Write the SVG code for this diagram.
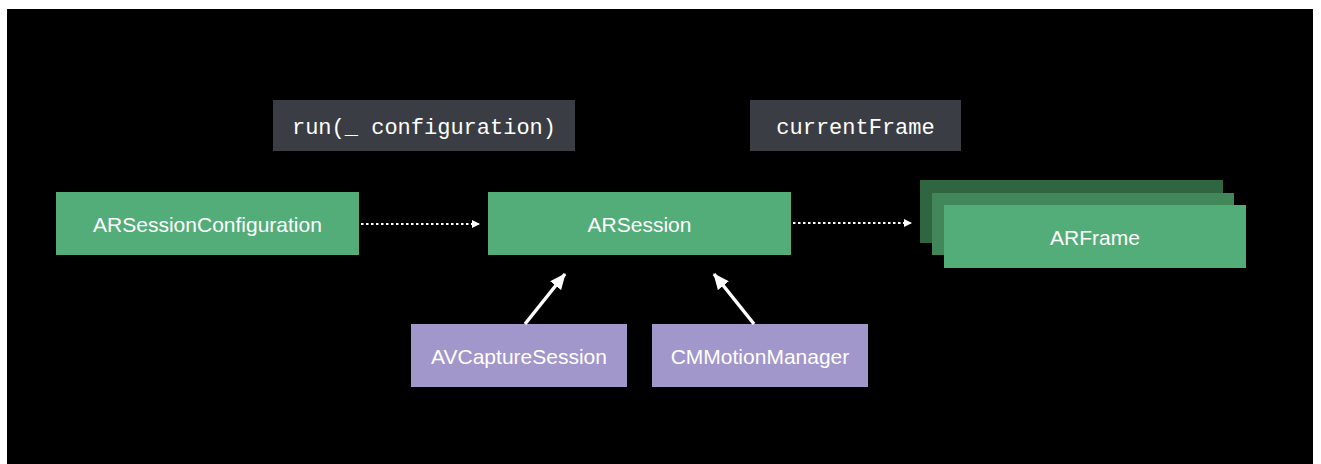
<svg xmlns="http://www.w3.org/2000/svg" width="1321" height="464" viewBox="0 0 1321 464">
<defs>
<style>
.lbl{font-family:"Liberation Sans",Arial,sans-serif;font-size:21px;fill:#ffffff;text-anchor:middle}
.code{font-family:"Liberation Mono","DejaVu Sans Mono",monospace;font-size:22px;fill:#ffffff;text-anchor:middle}
.green{fill:#53ad79}
.purple{fill:#a197cb}
.gray{fill:#3a3e44}
.dotted{stroke:#ffffff;stroke-width:2;stroke-dasharray:2.5 2.5;fill:none}
.solid{stroke:#ffffff;stroke-width:3.5;fill:none}
</style>
<marker id="smallHead" markerWidth="8" markerHeight="8" refX="8" refY="4" orient="auto" markerUnits="userSpaceOnUse">
<path d="M0,0 L8,4 L0,8 Z" fill="#ffffff"/>
</marker>
<marker id="bigHead" markerWidth="16" markerHeight="14" refX="15" refY="7" orient="auto" markerUnits="userSpaceOnUse">
<path d="M0,0 L16,7 L0,14 Z" fill="#ffffff"/>
</marker>
</defs>
<rect x="0" y="0" width="1321" height="464" fill="#ffffff"/>
<rect x="7" y="9" width="1306" height="455" fill="#000000"/>

<g id="run-label">
<rect class="gray" x="273" y="100" width="302" height="51"/>
<text class="code" x="424" y="134">run(_ configuration)</text>
</g>
<g id="currentFrame-label">
<rect class="gray" x="750" y="100" width="211" height="51"/>
<text class="code" x="855.5" y="134">currentFrame</text>
</g>

<g id="ARSessionConfiguration">
<rect class="green" x="56" y="192" width="303" height="63"/>
<text class="lbl" x="207.5" y="232">ARSessionConfiguration</text>
</g>
<g id="ARSession">
<rect class="green" x="488" y="192" width="303" height="63"/>
<text class="lbl" x="639.5" y="232">ARSession</text>
</g>
<g id="ARFrame">
<rect x="920" y="180" width="303" height="63" fill="#2f6540"/>
<rect x="932" y="193" width="302" height="62" fill="#41875a"/>
<rect class="green" x="944" y="205" width="302" height="63"/>
<text class="lbl" x="1095" y="245">ARFrame</text>
</g>
<g id="AVCaptureSession">
<rect class="purple" x="411" y="324" width="216" height="63"/>
<text class="lbl" x="519" y="364">AVCaptureSession</text>
</g>
<g id="CMMotionManager">
<rect class="purple" x="652" y="324" width="216" height="63"/>
<text class="lbl" x="760" y="364">CMMotionManager</text>
</g>

<g id="connectors">
<line class="dotted" x1="361" y1="224" x2="480" y2="224" marker-end="url(#smallHead)"/>
<line class="dotted" x1="793" y1="223" x2="912" y2="223" marker-end="url(#smallHead)"/>
<line class="solid" x1="525" y1="324" x2="565" y2="274" marker-end="url(#bigHead)"/>
<line class="solid" x1="754" y1="324" x2="714" y2="274" marker-end="url(#bigHead)"/>
</g>
</svg>
